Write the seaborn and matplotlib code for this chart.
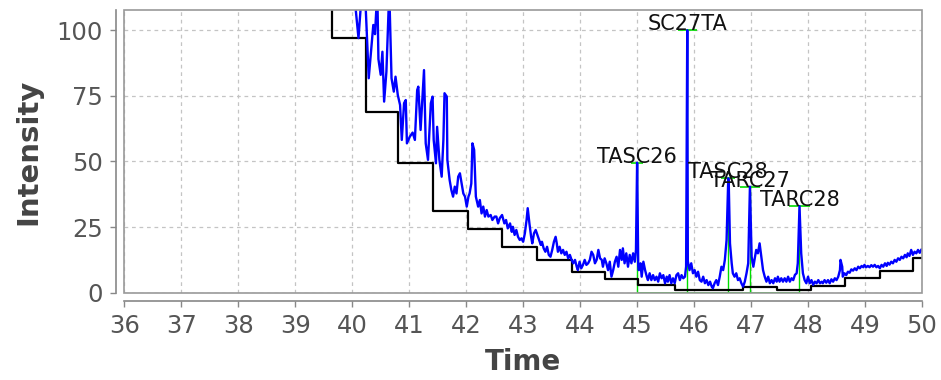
import matplotlib
matplotlib.use("Agg")
import matplotlib.pyplot as plt
import seaborn as sns
import pandas as pd
from matplotlib.patches import Rectangle

# ---- data ----
time = [40.03, 40.11, 40.17, 40.23, 40.29, 40.34, 40.37, 40.40, 40.44, 40.46, 40.50, 40.53, 40.56, 40.60, 40.65, 40.69, 40.73, 40.76, 40.80, 40.84,
        40.87, 40.91, 40.94, 40.96, 41.01, 41.06, 41.10, 41.14, 41.16, 41.20, 41.24, 41.26, 41.29, 41.33, 41.38, 41.41, 41.43, 41.47, 41.49, 41.53,
        41.57, 41.60, 41.62, 41.66, 41.67, 41.71, 41.74, 41.77, 41.80, 41.83, 41.86, 41.89, 41.92, 41.95, 41.98, 42.01, 42.04, 42.06, 42.09, 42.11,
        42.14, 42.17, 42.21, 42.24, 42.27, 42.30, 42.33, 42.36, 42.39, 42.43, 42.46, 42.50,
        42.53, 42.56, 42.59, 42.63, 42.67, 42.70, 42.73, 42.77, 42.80, 42.82, 42.85, 42.88, 42.91, 42.94, 42.97, 43.00, 43.03, 43.06, 43.08, 43.11,
        43.14, 43.16, 43.19, 43.22, 43.25, 43.28, 43.31, 43.33, 43.36, 43.39, 43.42, 43.45, 43.48, 43.51, 43.54, 43.57, 43.59, 43.61, 43.64, 43.67,
        43.70, 43.73, 43.76, 43.79, 43.82, 43.85, 43.88, 43.91, 43.94, 43.96, 43.99, 44.02, 44.05, 44.08, 44.11, 44.14, 44.17, 44.20, 44.23, 44.26,
        44.29, 44.32, 44.35,
        44.38, 44.40, 44.43, 44.46, 44.49, 44.52, 44.55, 44.58, 44.61, 44.64, 44.67, 44.70, 44.73, 44.75, 44.78, 44.81, 44.84, 44.87, 44.90, 44.93,
        44.96, 44.98, 45.00, 45.02, 45.03, 45.06, 45.08, 45.11, 45.14, 45.17, 45.19, 45.22, 45.25, 45.28, 45.31, 45.34, 45.37, 45.40, 45.43, 45.46,
        45.49, 45.52, 45.54, 45.57, 45.60, 45.63, 45.66, 45.69, 45.72, 45.75, 45.78, 45.81, 45.84, 45.86, 45.88, 45.89, 45.92, 45.95, 45.98, 46.01,
        46.04, 46.07, 46.10,
        46.13, 46.16, 46.19, 46.22, 46.25, 46.28, 46.31, 46.33, 46.36, 46.39, 46.42, 46.45, 46.48, 46.51, 46.54, 46.57, 46.59, 46.60, 46.61, 46.63,
        46.66, 46.68, 46.71, 46.74, 46.77, 46.80, 46.83, 46.86, 46.89, 46.92, 46.95, 46.98, 47.01, 47.04, 47.06, 47.09, 47.12, 47.15, 47.18, 47.21,
        47.24, 47.27, 47.30, 47.33, 47.36, 47.39, 47.42, 47.45, 47.47, 47.50, 47.53, 47.56, 47.59, 47.62, 47.65, 47.68, 47.71, 47.74, 47.77, 47.80,
        47.82, 47.85, 47.88, 47.91,
        47.94, 47.97, 48.00, 48.03, 48.06, 48.09, 48.12, 48.15, 48.18, 48.21, 48.24, 48.26, 48.29, 48.32, 48.35, 48.38, 48.41, 48.44, 48.47, 48.50,
        48.53, 48.56, 48.57, 48.60, 48.61, 48.64, 48.67, 48.70, 48.73, 48.76, 48.79, 48.82, 48.85, 48.88, 48.91, 48.94, 48.97, 48.99, 49.02, 49.05,
        49.08, 49.11, 49.14, 49.17, 49.20, 49.23, 49.26, 49.29, 49.32, 49.35, 49.38, 49.40, 49.43, 49.46, 49.49, 49.52, 49.55, 49.58, 49.61, 49.64,
        49.67, 49.70, 49.73, 49.75, 49.78, 49.81, 49.84, 49.87, 49.90, 49.93, 49.96, 49.99]

intensity = [115, 97, 115, 112, 81.7, 94.4, 102, 98.5, 115, 89, 83, 91.8, 72.8, 84.2, 115, 81.7, 76.6, 82.3, 75.3, 71.5,
             58.2, 72.2, 73.4, 56.9, 59.4, 61, 58.2, 77.2, 78.5, 62, 77.2, 84.8, 56.9, 50.6, 72.2, 74.7, 58.2, 49.3, 63.2, 50.6,
             44.2, 58.2, 76, 74.7, 50.6, 42.9, 39.1, 36.6, 40.4, 37.8, 44.2, 45.5, 41.6, 37.8, 36.6, 32.8, 36.6, 37.8, 41.6, 56.9,
             54.4, 36.6, 32.8, 35.3, 30.2, 32.8, 29, 31.5, 29, 29.6, 27.7, 29,
             29, 26.4, 28.4, 29.6, 26.4, 27.7, 24.5, 26.4, 23.2, 25.1, 22, 23.9, 21.3, 20.1, 20.7, 19.4, 22.6, 27.7, 32.2, 26.4,
             21.3, 18.8, 22.6, 23.9, 22, 20.1, 18.2, 19.4, 16.9, 15.6, 17.5, 14.4, 13.7, 16.3, 19.4, 21.3, 18.8, 15.6, 17.5, 15,
             16.3, 14.4, 15.6, 13.1, 14.4, 12.5, 11.2, 12.5, 9.9, 8.6, 11.8, 9.3, 10.6, 12.5, 10.6, 11.2, 12.5, 15.6, 14.4, 11.2,
             12.5, 16.3, 13.1,
             12.5, 9.9, 13.1, 11.2, 8.6, 11.8, 6.1, 8.6, 11.8, 13.7, 9.9, 16.3, 12.5, 16.9, 11.2, 15, 9.9, 14.4, 11.2, 15,
             11.8, 16.3, 49.5, 10, 8.6, 11.2, 6.1, 11.8, 8.6, 6.1, 4.8, 7.4, 4.8, 6.7, 4.8, 6.1, 4.2, 7.4, 5.5, 6.7,
             3.6, 6.1, 4.2, 6.7, 3.6, 5.5, 3.6, 6.7, 7.4, 4.8, 6.7, 5.5, 6.1, 10, 100, 12, 8.6, 11.2, 7.4, 8.6,
             6.1, 8, 4.8,
             4.2, 6.1, 3.6, 4.8, 2.9, 4.2, 2.3, 1.7, 3.6, 4.8, 2.9, 6.1, 9.9, 8.6, 12.5, 20, 35, 43.6, 40, 18.8,
             11.2, 7.4, 6.1, 7.4, 4.8, 5.5, 3.6, 2.3, 4.2, 7.4, 11.2, 40.4, 13.7, 9.9, 12.5, 16.3, 15, 18.8, 13.7, 8.6,
             6.1, 4.2, 6.1, 3.6, 4.8, 3.6, 5.5, 4.2, 6.1, 4.2, 5.5, 4.2, 5.5, 4.2, 6.1, 4.2, 5.5, 4.8, 6.8, 7.4,
             11.2, 33, 15, 7.4,
             4.8, 3.6, 6.1, 3.6, 4.8, 3, 4.2, 3.6, 4.8, 3.6, 4.2, 3.6, 4.8, 3.8, 4.8, 3.6, 5.1, 4.2, 5.5, 4.8,
             6.1, 8.6, 12.5, 9.9, 6.1, 7.4, 6.7, 8, 7.6, 8.9, 8.4, 9.3, 8.6, 9.9, 9.3, 10.2, 9.7, 10.6, 9.7, 10.2,
             9.7, 10.5, 9.9, 10.6, 9.7, 10.2, 9.3, 10.6, 9.9, 11.2, 10.2, 11.4, 10.7, 11.8, 11.2, 12.5, 11.8, 13.1, 12.5, 13.7,
             13.1, 14.4, 13.5, 15, 14, 16.3, 14.4, 15.6, 15, 16.3, 15.2, 16.5]

base_time = [39.00, 39.64, 40.24, 40.81, 41.42, 42.04, 42.63, 43.24, 43.85, 44.43, 45.02, 45.66, 46.85, 47.45, 48.06, 48.64, 49.26, 49.84, 50.00]
base_level = [140, 97, 69, 49.5, 31.3, 24.1, 17.5, 12.5, 7.8, 5.1, 2.9, 1.0, 2.0, 1.0, 2.5, 5.5, 8.4, 13.1, 13.1]

peak_names = ["TASC26", "SC27TA", "TASC28", "TARC27", "TARC28"]
peak_time = [45.00, 45.88, 46.60, 46.98, 47.85]
peak_height = [49.5, 100, 43.6, 40.4, 33]
peak_halfwidth = [0.10, 0.17, 0.12, 0.18, 0.18]

x_ticks = list(range(36, 51))
y_ticks = [0, 25, 50, 75, 100]

# ---- drawing ----
sns.set_theme(style="white")
plt.rcParams["font.family"] = ["DejaVu Sans"]

W, H = 941, 380
fig = plt.figure(figsize=(W / 100, H / 100), dpi=100)
left, right, top, bottom = 124.3, 922.0, 10.0, 292.7
ax = fig.add_axes([left / W, 1 - bottom / H, (right - left) / W, (bottom - top) / H])

df = pd.DataFrame({"Time": time, "Intensity": intensity})
base = pd.DataFrame({"Time": base_time, "Level": base_level})

# peak markers (green)
ax.vlines(peak_time, 0, peak_height, colors="#00dd00", lw=1.0, zorder=2)
ax.hlines(peak_height,
          [t - w for t, w in zip(peak_time, peak_halfwidth)],
          [t + w for t, w in zip(peak_time, peak_halfwidth)],
          colors="#00dd00", lw=1.2, zorder=2)
ax.hlines([0], [peak_time[0]], [peak_time[-1]], colors="#00dd00", lw=1.2, zorder=2)

sns.lineplot(data=base, x="Time", y="Level", drawstyle="steps-post", color="black",
             lw=1.6, estimator=None, sort=False, ax=ax, zorder=3)
sns.lineplot(data=df, x="Time", y="Intensity", color="#0000ff", lw=1.7,
             estimator=None, sort=False, ax=ax, zorder=4)

for name, t, h in zip(peak_names, peak_time, peak_height):
    ax.text(t, h, name, ha="center", va="baseline", fontsize=15, color="#111111", zorder=6)

ax.set_xlim(36, 50)
ax.set_ylim(0, 107.7)
ax.set_xticks(x_ticks)
ax.set_yticks(y_ticks)
ax.set_xticklabels([str(v) for v in x_ticks])
ax.set_yticklabels([str(v) for v in y_ticks])

ax.grid(True, color="#c4c4c4", lw=0.9, ls=(0, (3, 3)))
ax.set_axisbelow(True)

for s in ["top", "right"]:
    ax.spines[s].set_visible(False)
for s in ["left", "bottom"]:
    ax.spines[s].set_visible(True)
    ax.spines[s].set_position(("outward", 6))
    ax.spines[s].set_color("#888888")
    ax.spines[s].set_linewidth(1.2)
ax.add_patch(Rectangle((0, 0), 1, 1, transform=ax.transAxes, fill=False,
                       ec="#999999", lw=1.2, clip_on=False, zorder=7))

ax.tick_params(axis="both", which="major", bottom=True, left=True, direction="out",
               length=4.5, width=1.0, color="#888888", labelcolor="#555555",
               labelsize=17.5, pad=5)

ax.set_xlabel("Time", fontsize=20, fontweight="bold", color="#444444", labelpad=7)
ax.set_ylabel("Intensity", fontsize=21, fontweight="bold", color="#444444", labelpad=10)

fig.savefig("out.png", dpi=100)
